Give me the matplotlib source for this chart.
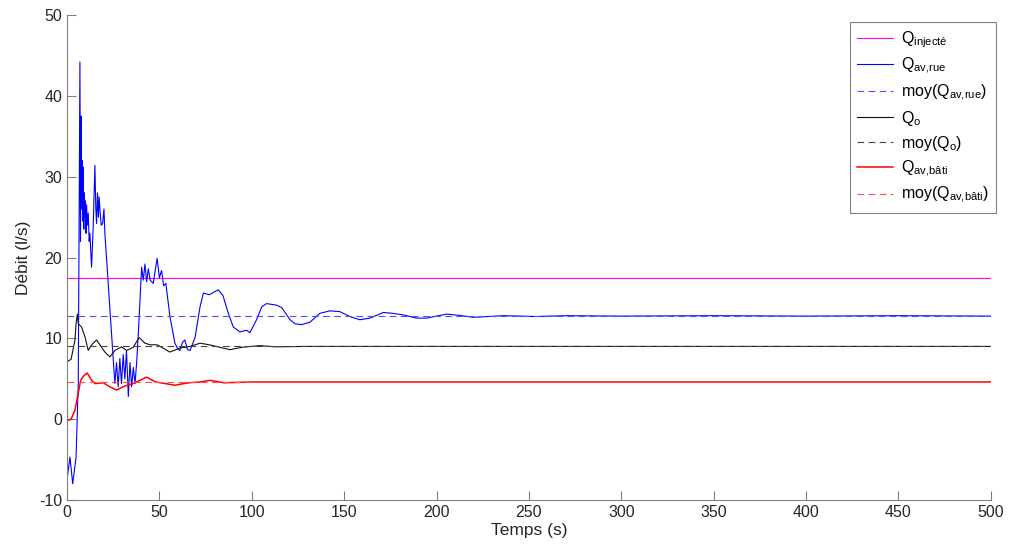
import matplotlib.pyplot as plt
import numpy as np

plt.rcParams['font.family'] = ['Liberation Sans', 'DejaVu Sans']
plt.rcParams['mathtext.fontset'] = 'custom'
plt.rcParams['mathtext.rm'] = 'Liberation Sans'
plt.rcParams['mathtext.it'] = 'Liberation Sans:italic'
plt.rcParams['axes.unicode_minus'] = False

# values (time in s, debit in l/s)
t_rue = [0, 1.6, 3.1, 4.9, 6.1, 7.0, 7.3, 7.6, 7.9, 8.2, 8.5, 8.8, 9.1, 9.4, 9.7, 10.0, 10.3,
         10.6, 11.0, 11.5, 12.0, 12.4, 13.3, 14.2, 15.1, 15.6, 16.0, 16.5, 17.0, 17.4, 17.8,
         18.5, 19.3, 20.0, 20.5, 22.3, 24.1, 25.9, 26.8, 27.7, 28.6, 29.5, 30.4, 31.3, 32.2, 33.2,
         34.1, 35.0, 35.9, 36.8, 37.7, 38.6, 40.4, 41.3, 42.2, 43.1, 44.0, 45.0, 46.7, 47.8, 48.8,
         50.0, 51.2, 52.3, 53.5, 55.7, 58.4, 60.0, 61.1, 62.5, 63.8, 65.2,
         66.6, 69.3, 72.0, 73.8, 77.0, 81.9, 84.4, 87.3, 90.0, 93.6, 97.2, 99.0, 102.6, 105.4,
         108.0, 113.5, 116.2, 120.7, 123.4, 127.0, 131.5, 136.9, 142.3, 147.7, 153.1, 158.5,
         164.0, 171.2, 176.0, 182.0, 189.2, 194.7, 200.0, 205.5, 212.0, 220.0, 228.0, 236.0,
         254.0, 270.0, 299.0, 350.0, 400.0, 450.0, 500.0]
q_rue = [-7.5, -4.7, -8.0, -4.7, 4.4, 44.2, 22.0, 37.5, 26.0, 32.0, 24.5, 31.2, 23.5, 28.0, 25.0,
         27.0, 23.0, 26.5, 24.0, 25.5, 22.0, 23.0, 18.8, 24.0, 31.4, 26.0, 24.2, 28.0, 25.0, 27.5,
         26.0, 24.0, 24.2, 26.0, 23.0, 16.8, 10.6, 4.4, 7.0, 4.0, 7.5, 4.4, 8.0, 5.0, 8.5,
         2.8, 7.0, 4.0, 6.4, 4.4, 7.0, 10.6, 18.8, 17.2, 19.2, 17.0, 18.6, 17.2, 16.8, 18.5, 19.9,
         17.5, 18.4, 16.5, 16.8, 12.7, 9.4, 8.7, 8.5, 9.5, 9.8, 8.6,
         8.5, 10.1, 13.9, 15.6, 15.4, 16.0, 15.3, 13.1, 11.4, 10.8, 11.0, 10.7, 12.3, 13.9,
         14.3, 14.1, 13.8, 12.3, 11.8, 11.7, 12.0, 13.1, 13.4, 13.3, 12.7, 12.3,
         12.5, 13.2, 13.1, 12.9, 12.5, 12.5, 12.75, 13.0, 12.85, 12.6, 12.7, 12.8,
         12.7, 12.8, 12.75, 12.8, 12.75, 12.8, 12.75]

t_o = [0, 2.2, 4.3, 4.9, 5.6, 6.1, 7.9, 9.7, 11.5, 13.3, 16.0, 17.8, 20.5, 23.2, 25.9, 29.5,
       32.3, 35.9, 39.0, 42.2, 45.0, 48.8, 55.7, 61.1, 66.6, 72.0, 77.0, 88.2, 95.0, 104.4,
       113.0, 130.0, 500.0]
q_o = [7.1, 7.4, 9.8, 11.8, 13.0, 11.8, 11.4, 10.2, 8.5, 9.2, 9.8, 9.2, 8.3, 7.7, 8.5, 8.95,
       8.5, 8.9, 10.1, 9.4, 9.2, 9.2, 8.3, 8.8, 9.0, 9.4, 9.2, 8.6, 8.9, 9.1,
       8.95, 9.0, 9.0]

t_bati = [0, 2.2, 4.3, 6.1, 7.4, 9.2, 11.0, 13.3, 15.1, 19.6, 23.2, 26.8, 31.3, 35.9, 43.1,
          48.0, 58.4, 65.7, 72.0, 77.4, 85.0, 100.0, 500.0]
q_bati = [-0.2, 0.0, 1.1, 3.2, 4.8, 5.4, 5.7, 4.8, 4.4, 4.5, 4.0, 3.6, 4.1, 4.4, 5.2,
          4.6, 4.2, 4.5, 4.6, 4.8, 4.5, 4.6, 4.6]

q_injecte = 17.5
moy_rue = 12.8
moy_o = 9.0
moy_bati = 4.6
t_range = [0, 500]

fig = plt.figure(figsize=(10.09, 5.58), dpi=100)
ax = fig.add_axes([0.0664, 0.104, 0.9156, 0.869])

ax.plot(t_range, [q_injecte] * 2, color='#ff00ff', lw=0.8, label=r'Q$_{\mathrm{injecté}}$')
ax.plot(t_rue, q_rue, color='#0000ff', lw=0.8, label=r'Q$_{\mathrm{av{,}rue}}$')
ax.plot(t_range, [moy_rue] * 2, color='#4d4dff', lw=0.8, ls=(0, (6, 4)),
        label=r'moy(Q$_{\mathrm{av{,}rue}}$)')
ax.plot(t_o, q_o, color='#111111', lw=0.8, label=r'Q$_{\mathrm{o}}$')
ax.plot(t_range, [moy_o] * 2, color='#444444', lw=0.8, ls=(0, (6, 4)),
        label=r'moy(Q$_{\mathrm{o}}$)')
ax.plot(t_bati, q_bati, color='#ff0000', lw=1.1, label=r'Q$_{\mathrm{av{,}bâti}}$')
ax.plot(t_range, [moy_bati] * 2, color='#ff4d4d', lw=0.8, ls=(0, (6, 4)),
        label=r'moy(Q$_{\mathrm{av{,}bâti}}$)')

ax.set_xlim(0, 500)
ax.set_ylim(-10, 50)
ax.set_xticks(np.arange(0, 501, 50))
ax.set_yticks(np.arange(-10, 51, 10))
for s in ['top', 'right']:
    ax.spines[s].set_visible(False)
for s in ['left', 'bottom']:
    ax.spines[s].set_color('#808080')
ax.tick_params(direction='in', length=6.5, width=0.8, color='#808080',
               labelsize=11.5, labelcolor='#262626')
ax.set_xlabel('Temps (s)', fontsize=12.5, color='#262626', labelpad=2)
ax.set_ylabel('Débit (l/s)', fontsize=12.5, color='#262626', labelpad=6)

leg = ax.legend(loc='upper right', bbox_to_anchor=(1.0054, 0.9856), fontsize=11.5,
                fancybox=False, framealpha=1, edgecolor='#808080', handlelength=2.3,
                handletextpad=0.45, labelspacing=0.38, borderpad=0.45, borderaxespad=0)
leg.get_frame().set_linewidth(0.8)

fig.savefig('out.png', dpi=100)
